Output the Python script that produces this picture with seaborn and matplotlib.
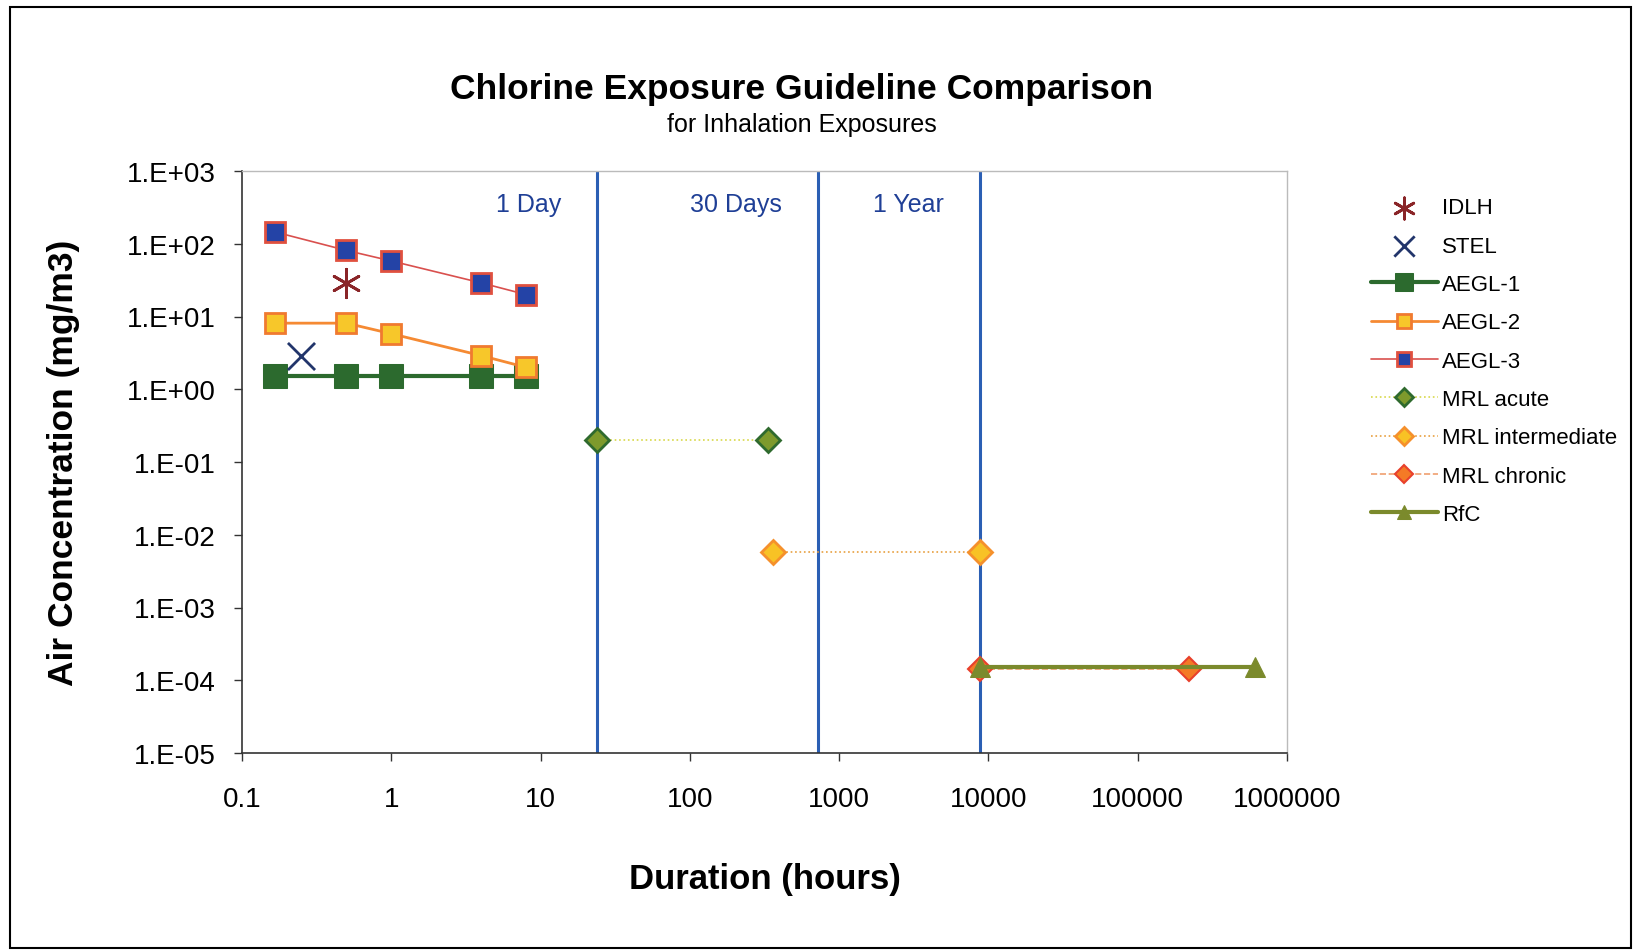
import numpy as np
import pandas as pd
import matplotlib
matplotlib.use("Agg")
import matplotlib.pyplot as plt
import seaborn as sns
from matplotlib.patches import Rectangle

# durations in hours, concentrations in mg/m3
aegl_hours = [0.1667, 0.5, 1, 4, 8]
aegl1 = [1.5, 1.5, 1.5, 1.5, 1.5]
aegl2 = [8.1, 8.1, 5.8, 2.9, 2.0]
aegl3 = [145, 81, 58, 29, 20]

idlh_hours = [0.5]
idlh = [29]
stel_hours = [0.25]
stel = [2.9]

mrl_acute_hours = [24, 336]
mrl_acute = [0.2, 0.2]
mrl_inter_hours = [360, 8760]
mrl_inter = [0.0058, 0.0058]
mrl_chronic_hours = [8760, 219000]
mrl_chronic = [0.000145, 0.000145]
rfc_hours = [8760, 613200]
rfc = [0.00015, 0.00015]

marker_hours = [24, 720, 8760]
marker_names = ["1 Day", "30 Days", "1 Year"]

y_ticks = [1e-5, 1e-4, 1e-3, 1e-2, 1e-1, 1, 10, 100, 1000]
y_labels = ["1.E-05", "1.E-04", "1.E-03", "1.E-02", "1.E-01",
            "1.E+00", "1.E+01", "1.E+02", "1.E+03"]
x_ticks = [0.1, 1, 10, 100, 1000, 10000, 100000, 1000000]
x_labels = ["0.1", "1", "10", "100", "1000", "10000", "100000", "1000000"]

sns.set_style("white")
plt.rcParams["font.family"] = ["Liberation Sans", "DejaVu Sans"]
plt.rcParams["text.color"] = "black"
plt.rcParams["axes.labelcolor"] = "black"
plt.rcParams["xtick.color"] = "black"
plt.rcParams["ytick.color"] = "black"

fig = plt.figure(figsize=(16.38, 9.53), dpi=100)
ax = fig.add_axes([242 / 1638, 1 - 754 / 953, (1287 - 242) / 1638, (754 - 172) / 953])

# outer frame of the figure
fig.patches.append(Rectangle((0.006, 0.004), 0.99, 0.988, transform=fig.transFigure,
                             fill=False, edgecolor="black", linewidth=1.5))

for h in marker_hours:
    ax.axvline(h, color="#2b5fb4", linewidth=2.2, zorder=1)

def series(x, y, label, **kw):
    df = pd.DataFrame({"hours": x, "conc": y})
    sns.lineplot(data=df, x="hours", y="conc", ax=ax, label=label,
                 estimator=None, sort=False, zorder=3, **kw)

sns.scatterplot(x=idlh_hours, y=idlh, ax=ax, marker=(6, 2, 0), s=420,
                color="#8a2528", linewidth=2, label="IDLH", zorder=4)
sns.scatterplot(x=stel_hours, y=stel, ax=ax, marker="x", s=380,
                color="#22356b", linewidth=2, label="STEL", zorder=4)

series(aegl_hours, aegl1, "AEGL-1", color="#2c6a2e", linewidth=3,
       marker="s", markersize=17, markerfacecolor="#2c6a2e", markeredgecolor="#2c6a2e")
series(aegl_hours, aegl2, "AEGL-2", color="#f58a33", linewidth=2,
       marker="s", markersize=14, markerfacecolor="#f7c72a", markeredgecolor="#f07a30",
       markeredgewidth=2)
series(aegl_hours, aegl3, "AEGL-3", color="#d9504e", linewidth=1.2,
       marker="s", markersize=14, markerfacecolor="#2443a6", markeredgecolor="#e0503f",
       markeredgewidth=2)
series(mrl_acute_hours, mrl_acute, "MRL acute", color="#d8d84a", linewidth=1.2,
       linestyle=":", marker="D", markersize=12, markerfacecolor="#7e9a2c",
       markeredgecolor="#2f6a2e", markeredgewidth=2)
series(mrl_inter_hours, mrl_inter, "MRL intermediate", color="#e8a040", linewidth=1.2,
       linestyle=":", marker="D", markersize=12, markerfacecolor="#f8c225",
       markeredgecolor="#f5902c", markeredgewidth=2)
series(mrl_chronic_hours, mrl_chronic, "MRL chronic", color="#f0a070", linewidth=1.2,
       linestyle="--", marker="D", markersize=12, markerfacecolor="#f47a26",
       markeredgecolor="#e8402c", markeredgewidth=1.5)
series(rfc_hours, rfc, "RfC", color="#7b8a2c", linewidth=3,
       marker="^", markersize=14, markerfacecolor="#7b8a2c", markeredgecolor="#7b8a2c")

ax.set_xscale("log")
ax.set_yscale("log")
ax.set_xlim(0.1, 1e6)
ax.set_ylim(1e-5, 1e3)
ax.set_xticks(x_ticks)
ax.set_xticklabels(x_labels)
ax.set_yticks(y_ticks)
ax.set_yticklabels(y_labels)
ax.minorticks_off()
ax.tick_params(axis="both", which="major", labelsize=20, direction="out",
               length=6, width=1, color="#333333", bottom=True, left=True)
ax.tick_params(axis="x", pad=18)
ax.tick_params(axis="y", pad=13)

for side in ["top", "right"]:
    ax.spines[side].set_color("#bbbbbb")
    ax.spines[side].set_linewidth(1)
for side in ["left", "bottom"]:
    ax.spines[side].set_color("#333333")
    ax.spines[side].set_linewidth(1.2)

ax.set_xlabel("Duration (hours)", fontsize=25, fontweight="bold", labelpad=36)
ax.set_ylabel("Air Concentration (mg/m3)", fontsize=25.5, fontweight="bold", labelpad=34)

for h, name in zip(marker_hours, marker_names):
    ax.text(h / 1.75, 350, name, color="#1f3f96", fontsize=18, ha="right", va="center")

fig.text(0.4895, 0.906, "Chlorine Exposure Guideline Comparison", fontsize=25.5,
         fontweight="bold", ha="center", va="center")
fig.text(0.4895, 0.869, "for Inhalation Exposures", fontsize=18, ha="center", va="center")

leg = ax.legend(loc="upper left", bbox_to_anchor=(1.072, 0.97), frameon=False,
                fontsize=16, handlelength=3.0, labelspacing=0.78, borderaxespad=0,
                handletextpad=0.2, markerscale=0.75)

fig.savefig("out.png", dpi=100)
